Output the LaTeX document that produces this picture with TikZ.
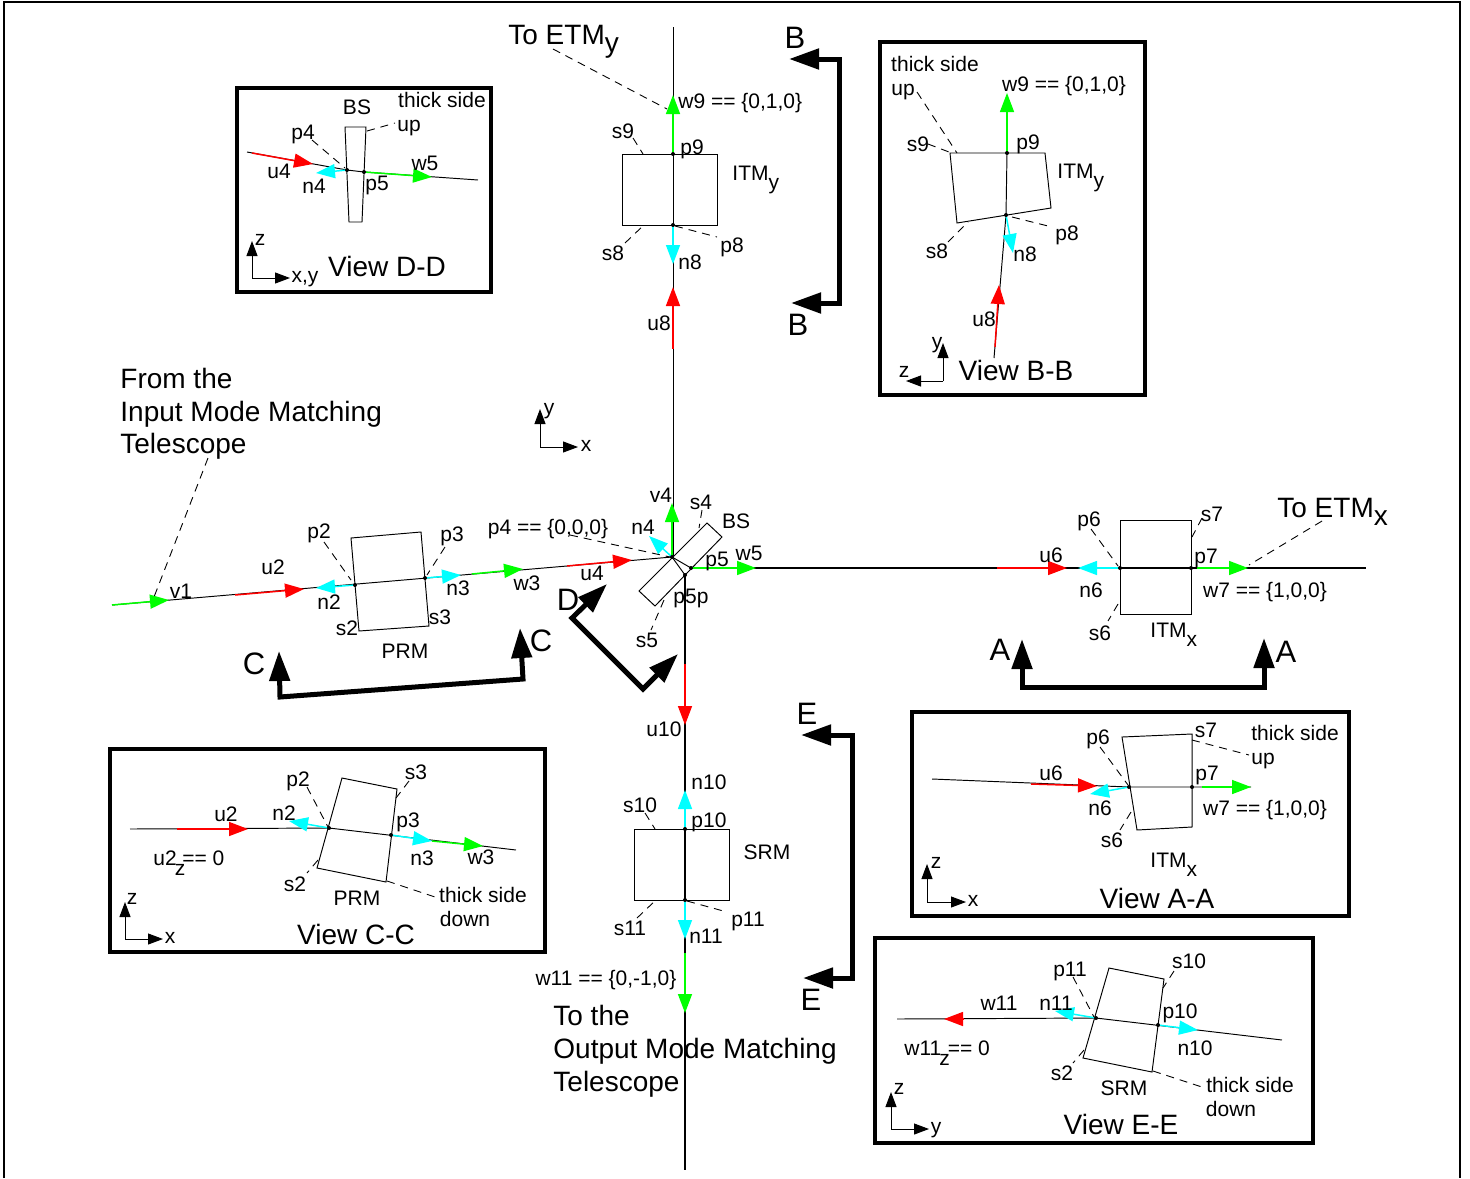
\documentclass[tikz,border=0pt]{standalone}
\usepackage{fontspec}
\setmainfont{Liberation Sans}
\usetikzlibrary{arrows.meta}
\definecolor{bred}{RGB}{255,0,0}
\definecolor{bgreen}{RGB}{0,255,0}
\definecolor{bcyan}{RGB}{0,255,255}
\newcounter{lbn}
\tikzset{
  x=0.5pt,y=-0.5pt,
  thin line/.style={line width=0.48pt,black},
  long line/.style={line width=0.55pt,black},
  ray/.style={line width=0.75pt,-{Triangle[length=9.5pt,width=7pt]}},
  dashline/.style={line width=0.45pt,dash pattern=on 4pt off 3pt},
  viewbox/.style={line width=2.2pt,draw=black,fill=white},
  section/.style={line width=2.5pt,miter limit=10,{Triangle[length=15pt,width=10pt]}-{Triangle[length=15pt,width=10pt]}},
  axis/.style={line width=0.5pt,-{Triangle[length=7.5pt,width=5.5pt]}},
  small/.style={inner sep=0pt,font=\fontsize{10.5}{12}\selectfont},
  mid/.style={inner sep=0pt,font=\fontsize{14}{16}\selectfont},
  big/.style={inner sep=0pt,font=\fontsize{15.5}{18}\selectfont},
}
\newcommand\lbl[4][small]{\stepcounter{lbn}\node[#1] (lb\arabic{lbn}) at (#2,#3) {#4};}
\newcommand\ray[3]{\draw[ray,draw=#1] #2 -- #3;}
\newcommand\dsh[2]{\draw[dashline] #1 -- #2;}
\newcommand\dotat[1]{\fill #1 circle (1pt);}
\newcommand\axes[3]{\draw[axis] #1 -- #2; \draw[axis] #1 -- #3;}
\newcommand\lowS[1]{\raisebox{-0.45em}{#1}}
\newcommand\lowB[1]{\raisebox{-0.3em}{#1}}
\begin{document}
\begin{tikzpicture}
\useasboundingbox (0,0) rectangle (1470,1178);
\fill[white] (0,0) rectangle (1470,1178);
% outer frame
\draw[line width=1pt] (4,1178) -- (4,2) -- (1460,2) -- (1460,1178);

% ---- main layout: black lines
\draw[thin line] (112,605) -- (672,557);
\draw[thin line] (672,557) -- (691,568);
\draw[long line] (691,568) -- (1366,568);
\draw[thin line] (672,557) -- (685,575);
\draw[long line] (685,575) -- (685,1170);
\draw[thin line] (673,557) -- (673,27);
% PRM
\draw[thin line] (351,538) -- (421,532) -- (429,626) -- (359,631) -- cycle;
% BS
\draw[thin line] (707,523) -- (722,537) -- (655,606) -- (639,591) -- cycle;
% ITMy, ITMx, SRM
\draw[thin line] (622,154) rectangle (717,225);
\draw[thin line] (1120,520) rectangle (1191,614);
\draw[thin line] (634,829) rectangle (729,900);

% main rays
\ray{bgreen}{(112,605)}{(169,600)}
\ray{bred}{(235,595)}{(304,589)}
\ray{bcyan}{(355,585)}{(316,588)}
\ray{bcyan}{(425,578)}{(461,575)}
\ray{bgreen}{(472,574)}{(523,569)}
\ray{bred}{(567,566)}{(632,560)}
\ray{bgreen}{(672,557)}{(672,503)}
\ray{bcyan}{(672,557)}{(649,536)}
\ray{bgreen}{(691,568)}{(756,568)}
\ray{bred}{(685,664)}{(685,725)}
\ray{bgreen}{(673,154)}{(673,95)}
\ray{bcyan}{(673,225)}{(673,264)}
\ray{bred}{(673,349)}{(673,287)}
\ray{bred}{(997,568)}{(1067,568)}
\ray{bcyan}{(1120,568)}{(1078,568)}
\ray{bgreen}{(1197,568)}{(1248,568)}
\ray{bcyan}{(685,829)}{(685,790)}
\ray{bcyan}{(685,900)}{(685,939)}
\ray{bgreen}{(685,953)}{(685,1013)}

% main dots
\foreach \p in {(355,585),(425,578),(672,557),(691,568),(685,575),(673,154),(673,225),(1120,568),(1191,568),(685,829),(685,900)} {\dotat{\p}}

% main dashes
\dsh{(208,458)}{(154,597)}
\dsh{(324,542)}{(351,580)}
\dsh{(445,547)}{(427,575)}
\dsh{(570,535)}{(670,557)}
\dsh{(702,510)}{(699,528)}
\dsh{(664,600)}{(651,630)}
\dsh{(553,49)}{(667,109)}
\dsh{(633,138)}{(643,154)}
\dsh{(625,243)}{(645,224)}
\dsh{(675,226)}{(717,237)}
\dsh{(1091,529)}{(1118,566)}
\dsh{(1202,518)}{(1192,537)}
\dsh{(1118,604)}{(1108,621)}
\dsh{(1322,521)}{(1249,565)}
\dsh{(645,813)}{(655,829)}
\dsh{(637,918)}{(657,899)}
\dsh{(687,901)}{(727,912)}

% section arrows
\draw[section] (279,651) -- (280,697) -- (523,679) -- (520,628);
\draw[section] (607,584) -- (572,618) -- (643,689) -- (678,654);
\draw[section] (789,59) -- (839,59) -- (839,303) -- (791,303);
\draw[section] (1022,639) -- (1022,687) -- (1264,687) -- (1264,638);
\draw[section] (801,735) -- (852,735) -- (852,978) -- (803,978);

% main axes
\axes{(540,447)}{(540,409)}{(578,447)}

% ---- main labels
\lbl[mid,anchor=west]{120}{378}{From the}
\lbl[mid,anchor=west]{120}{414}{Input Mode Matching}
\lbl[mid,anchor=west]{120}{446}{Telescope}
\lbl{549}{411}{y}
\lbl{586}{446}{x}
\lbl{181}{591}{v1}
\lbl{273}{567}{u2}
\lbl{319}{533}{p2}
\lbl{329}{602}{n2}
\lbl{452}{536}{p3}
\lbl{458}{588}{n3}
\lbl{347}{628}{s2}
\lbl{440}{617}{s3}
\lbl{405}{651}{PRM}
\lbl{527}{583}{w3}
\lbl{548}{529}{p4 == \{0,0,0\}}
\lbl{592}{573}{u4}
\lbl{661}{495}{v4}
\lbl{701}{502}{s4}
\lbl{736}{521}{BS}
\lbl{643}{527}{n4}
\lbl{717}{561}{p5}
\lbl{749}{553}{w5}
\lbl{691}{598}{p5p}
\lbl{647}{640}{s5}
\lbl[big]{254}{664}{C}
\lbl[big]{541}{641}{C}
\lbl[big]{568}{600}{D}
\lbl[big]{795}{38}{B}
\lbl[big]{798}{325}{B}
\lbl[big]{1000}{650}{A}
\lbl[big]{1286}{652}{A}
\lbl[big]{807}{714}{E}
\lbl[big]{811}{1000}{E}
\lbl[mid,anchor=west]{508}{42}{To ETM\lowB{y}}
\lbl[small,anchor=west]{678}{103}{w9 == \{0,1,0\}}
\lbl{623}{131}{s9}
\lbl{692}{149}{p9}
\lbl[small,anchor=west]{732}{180}{ITM\lowS{y}}
\lbl{613}{253}{s8}
\lbl{732}{247}{p8}
\lbl{690}{262}{n8}
\lbl{659}{323}{u8}
\lbl[mid,anchor=west]{1277}{512}{To ETM\lowB{x}}
\lbl{1089}{521}{p6}
\lbl{1212}{514}{s7}
\lbl{1051}{555}{u6}
\lbl{1206}{558}{p7}
\lbl{1091}{590}{n6}
\lbl{1265}{592}{w7 == \{1,0,0\}}
\lbl{1100}{633}{s6}
\lbl[small,anchor=west]{1150}{635}{ITM\lowS{x}}
\lbl{664}{729}{u10}
\lbl{709}{782}{n10}
\lbl{640}{805}{s10}
\lbl{709}{822}{p10}
\lbl{767}{852}{SRM}
\lbl{630}{928}{s11}
\lbl{748}{921}{p11}
\lbl{706}{936}{n11}
\lbl{606}{980}{w11 == \{0,-1,0\}}
\lbl[mid,anchor=west]{553}{1015}{To the}
\lbl[mid,anchor=west]{553}{1051}{Output Mode Matching}
\lbl[mid,anchor=west]{553}{1084}{Telescope}

% ---- View D-D
\draw[viewbox] (237,88) rectangle (491,292);
\draw[thin line] (345,127) -- (366,127) -- (362,222) -- (349,222) -- cycle;
\draw[thin line] (247,152) -- (347,170) -- (364,172) -- (478,180);
\ray{bred}{(252,153)}{(313,164)}
\ray{bcyan}{(347,170)}{(316,173)}
\ray{bgreen}{(364,172)}{(432,177)}
\dotat{(347,170)}\dotat{(364,172)}
\dsh{(312,140)}{(345,168)}
\dsh{(367,131)}{(395,123)}
\axes{(252,278)}{(252,241)}{(290,278)}
\lbl{357}{107}{BS}
\lbl{442}{100}{thick side}
\lbl{409}{128}{up}
\lbl{303}{134}{p4}
\lbl{279}{171}{u4}
\lbl{314}{186}{n4}
\lbl{377}{185}{p5}
\lbl{425}{163}{w5}
\lbl[mid]{387}{266}{View D-D}
\lbl{305}{279}{x,y}
\lbl{260}{240}{z}

% ---- View B-B
\draw[viewbox] (880,42) rectangle (1145,395);
\draw[thin line] (950,153) -- (1045,153) -- (1051,208) -- (957,223) -- cycle;
\draw[thin line] (994,358) -- (1006,215) -- (1007,153);
\ray{bgreen}{(1007,153)}{(1007,93)}
\ray{bred}{(995,347)}{(999,285)}
\ray{bcyan}{(1006,215)}{(1013,253)}
\dotat{(1007,153)}\dotat{(1006,215)}
\dsh{(917,92)}{(957,153)}
\dsh{(928,144)}{(949,152)}
\dsh{(948,242)}{(968,222)}
\dsh{(1012,217)}{(1052,227)}
\axes{(943,381)}{(943,343)}{(906,381)}
\lbl{935}{64}{thick side}
\lbl{903}{92}{up}
\lbl{1064}{86}{w9 == \{0,1,0\}}
\lbl{918}{144}{s9}
\lbl{1028}{144}{p9}
\lbl[small,anchor=west]{1057}{178}{ITM\lowS{y}}
\lbl{937}{251}{s8}
\lbl{1067}{235}{p8}
\lbl{1025}{254}{n8}
\lbl{984}{319}{u8}
\lbl[mid]{1016}{370}{View B-B}
\lbl{937}{345}{y}
\lbl{904}{372}{z}

% ---- View C-C
\draw[viewbox] (110,749) rectangle (545,952);
\draw[thin line] (342,778) -- (397,789) -- (386,882) -- (317,868) -- cycle;
\draw[thin line] (130,829) -- (329,828) -- (516,850);
\ray{bred}{(177,829)}{(248,829)}
\ray{bcyan}{(329,828)}{(289,821)}
\ray{bcyan}{(391,835)}{(432,841)}
\ray{bgreen}{(432,841)}{(483,846)}
\dotat{(329,828)}\dotat{(391,835)}
\dsh{(307,787)}{(328,827)}
\dsh{(409,781)}{(396,798)}
\dsh{(318,860)}{(307,873)}
\dsh{(387,881)}{(438,898)}
\axes{(125,939)}{(125,902)}{(163,939)}
\lbl{298}{781}{p2}
\lbl{416}{772}{s3}
\lbl{226}{814}{u2}
\lbl{284}{813}{n2}
\lbl{408}{822}{p3}
\lbl{422}{858}{n3}
\lbl{481}{857}{w3}
\lbl[small,anchor=west]{153}{863}{u2\kern-1pt\lowS{z}\kern-1.5pt== 0}
\lbl{295}{884}{s2}
\lbl{357}{898}{PRM}
\lbl{483}{895}{thick side}
\lbl{465}{919}{down}
\lbl[mid]{356}{934}{View C-C}
\lbl{170}{938}{x}
\lbl{132}{899}{z}

% ---- View A-A
\draw[viewbox] (912,712) rectangle (1349,916);
\draw[thin line] (1122,737) -- (1192,734) -- (1192,827) -- (1137,830) -- cycle;
\draw[thin line] (932,779) -- (1129,787) -- (1251,787);
\ray{bred}{(1031,784)}{(1097,786)}
\ray{bcyan}{(1129,787)}{(1090,794)}
\ray{bgreen}{(1202,787)}{(1251,787)}
\dotat{(1129,787)}\dotat{(1192,787)}
\dsh{(1100,747)}{(1128,785)}
\dsh{(1192,740)}{(1249,755)}
\dsh{(1131,812)}{(1120,830)}
\axes{(927,902)}{(927,864)}{(966,902)}
\lbl{1098}{739}{p6}
\lbl{1206}{730}{s7}
\lbl{1295}{733}{thick side}
\lbl{1263}{761}{up}
\lbl{1051}{773}{u6}
\lbl{1207}{775}{p7}
\lbl{1100}{808}{n6}
\lbl{1265}{810}{w7 == \{1,0,0\}}
\lbl{1112}{840}{s6}
\lbl[small,anchor=west]{1150}{865}{ITM\lowS{x}}
\lbl[mid]{1157}{898}{View A-A}
\lbl{973}{901}{x}
\lbl{936}{863}{z}

% ---- View E-E
\draw[viewbox] (875,938) rectangle (1313,1143);
\draw[thin line] (1109,968) -- (1164,979) -- (1152,1072) -- (1083,1058) -- cycle;
\draw[thin line] (897,1019) -- (1096,1018) -- (1282,1040);
\ray{bred}{(964,1019)}{(944,1019)}
\ray{bcyan}{(1096,1018)}{(1055,1011)}
\ray{bcyan}{(1158,1025)}{(1198,1030)}
\dotat{(1096,1018)}\dotat{(1158,1025)}
\dsh{(1073,977)}{(1094,1017)}
\dsh{(1174,971)}{(1163,988)}
\dsh{(1084,1050)}{(1073,1063)}
\dsh{(1153,1071)}{(1205,1088)}
\axes{(891,1129)}{(891,1092)}{(929,1129)}
\lbl{1070}{971}{p11}
\lbl{1189}{961}{s10}
\lbl{999}{1003}{w11}
\lbl{1056}{1003}{n11}
\lbl{1180}{1013}{p10}
\lbl{1195}{1048}{n10}
\lbl[small,anchor=west]{904}{1053}{w11\kern-1pt\lowS{z}\kern-1pt== 0}
\lbl{1062}{1073}{s2}
\lbl{1124}{1088}{SRM}
\lbl{1250}{1085}{thick side}
\lbl{1231}{1109}{down}
\lbl[mid]{1121}{1124}{View E-E}
\lbl{936}{1130}{y}
\lbl{899}{1089}{z}
\end{tikzpicture}
\end{document}
